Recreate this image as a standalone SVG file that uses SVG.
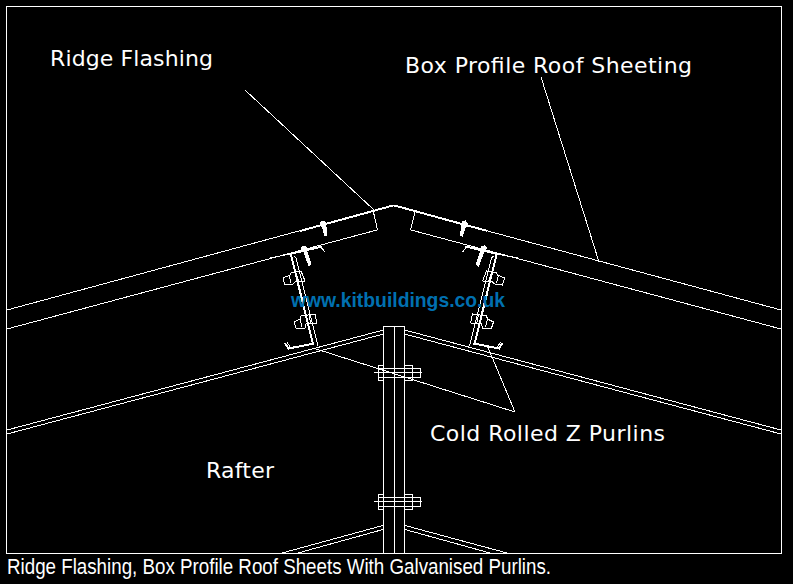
<svg xmlns="http://www.w3.org/2000/svg" width="793" height="584" viewBox="0 0 793 584">
<style>
line,polyline,polygon,rect{fill:none;stroke:#fff;stroke-width:1;shape-rendering:crispEdges}
.t{stroke-width:2}
.f{stroke-width:3}
.h{fill:#fff}
text{fill:#fff;font-family:"DejaVu Sans",sans-serif;font-size:22px}
</style>
<defs>
<g id="bolt">
<polyline points="378,365 383,365 383,380 378,380 378,365"/>
<polyline points="405,365 412.5,365 412.5,380 405,380"/>
<line x1="378" y1="368.500" x2="412.500" y2="368.500"/>
<line x1="378" y1="377" x2="412.500" y2="377"/>
<polyline points="412.500,368.500 420.500,368.500 420.500,377 412.500,377"/>
<line x1="374" y1="372.500" x2="421.500" y2="372.500"/>
</g>
<g id="purlin">
<line x1="291" y1="255" x2="313" y2="344" class="t"/>
<line x1="296" y1="258" x2="318" y2="346"/>
<line x1="294" y1="256" x2="296" y2="258"/>
<polyline points="285,343 288.500,348.500 314,343.500" class="t"/>
<line x1="287" y1="342" x2="290" y2="347"/>
<polygon points="283,278 290,275 291,273 301,271 305,281 295,282 293,284 285,285"/>
<line x1="289" y1="275" x2="291" y2="283"/>
<line x1="296" y1="273" x2="299" y2="282"/>
<polygon points="294,322 300,319 301,316 315,314 317,323 306,324 305,328 296,328"/>
<line x1="300" y1="319" x2="302" y2="327"/>
<line x1="309" y1="315" x2="311" y2="324"/>
<polygon class="h" points="301,248 303,246 306,247 307,252 311,264 309,266 306,258 304,252"/>
<line x1="320" y1="246" x2="325" y2="252"/>
<polygon class="h" points="320,224 322,221 325,222 326,227 327,235 325,236 323,229"/>
<line x1="270" y1="258" x2="290" y2="254"/>
<line x1="290" y1="254" x2="322" y2="246.500" class="t"/>
<line x1="300" y1="231" x2="393" y2="205.500" class="t"/>
</g>
</defs>
<rect x="0" y="0" width="793" height="584" style="fill:#000;stroke:none"/>
<rect x="6.500" y="6.500" width="775" height="547"/>
<g id="roof-sheets">
<line x1="7" y1="310" x2="393" y2="205.500"/>
<line x1="393" y1="205.500" x2="781" y2="310"/>
<line x1="7" y1="329" x2="377" y2="230"/>
<line x1="411" y1="230" x2="781" y2="329"/>
<polyline points="373,210 377.500,230"/>
<polyline points="415,212 410.500,230"/>
</g>
<g id="rafter">
<line x1="7" y1="430" x2="383.500" y2="330"/>
<line x1="7" y1="434" x2="383.500" y2="334"/>
<line x1="404.500" y1="330" x2="781" y2="430"/>
<line x1="404.500" y1="334" x2="781" y2="434"/>
<rect x="383.500" y="326.500" width="21" height="227"/>
<line x1="394.500" y1="326.500" x2="394.500" y2="553"/>
<line x1="383" y1="525.500" x2="282" y2="553"/>
<line x1="383" y1="529.500" x2="298" y2="553"/>
<line x1="405" y1="525.500" x2="507" y2="553"/>
<line x1="405" y1="529.500" x2="490" y2="553"/>
<use href="#bolt"/>
<use href="#bolt" y="129"/>
</g>
<g id="purlin-left"><use href="#purlin"/></g>
<g id="purlin-right"><use href="#purlin" transform="matrix(-1 0 0 1 787.500 0)"/></g>
<g id="connectors">
<line x1="245" y1="90" x2="374" y2="210"/>
<line x1="541" y1="77" x2="599" y2="262"/>
<line x1="313" y1="348" x2="515" y2="412"/>
<line x1="487" y1="345" x2="515" y2="412"/>
</g>
<g id="labels">
<text x="50" y="65.500" textLength="163">Ridge Flashing</text>
<text x="405" y="72.500" textLength="287">Box Profile Roof Sheeting</text>
<text x="430" y="440.500" textLength="235">Cold Rolled Z Purlins</text>
<text x="206" y="478" textLength="68">Rafter</text>
<text x="291" y="307" textLength="214" lengthAdjust="spacingAndGlyphs" style="font-family:'Liberation Sans',Arial,sans-serif;font-weight:700;font-size:20px;fill:#0070b0">www.kitbuildings.co.uk</text>
<text x="7" y="574" textLength="544" lengthAdjust="spacingAndGlyphs" style="font-family:'Liberation Sans',Arial,sans-serif;font-size:22px">Ridge Flashing, Box Profile Roof Sheets With Galvanised Purlins.</text>
</g>
</svg>
